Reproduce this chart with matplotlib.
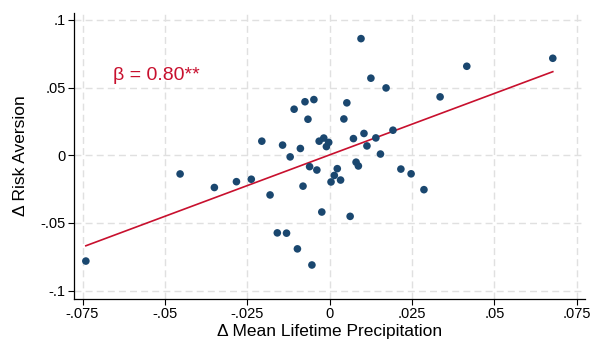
import numpy as np
import matplotlib
matplotlib.use("Agg")
import matplotlib.pyplot as plt

plt.rcParams['font.family'] = ['Liberation Sans', 'DejaVu Sans']

# change in mean lifetime precipitation vs change in risk aversion
precip = [-0.0740, -0.0454, -0.0350, -0.0283, -0.0238, -0.0206, -0.0181, -0.0159,
          -0.0131, -0.0098, -0.0054, -0.0143, -0.0120, -0.0108, -0.0075, -0.0048,
          -0.0066, -0.0089, -0.0061, -0.0039, -0.0081, -0.0032, -0.0018, -0.0003,
          -0.0010, -0.0024, 0.0004, 0.0014, 0.0023, 0.0033, 0.0052, 0.0043,
          0.0062, 0.0072, 0.0080, 0.0087, 0.0095, 0.0104, 0.0113, 0.0125,
          0.0140, 0.0154, 0.0171, 0.0192, 0.0216, 0.0247, 0.0286, 0.0335,
          0.0416, 0.0677]
risk = [-0.0781, -0.0138, -0.0238, -0.0195, -0.0177, 0.0104, -0.0293, -0.0573,
        -0.0575, -0.0691, -0.0810, 0.0075, -0.0012, 0.0340, 0.0395, 0.0411,
        0.0266, 0.0050, -0.0084, -0.0109, -0.0228, 0.0104, 0.0127, 0.0095,
        0.0064, -0.0419, -0.0197, -0.0149, -0.0099, -0.0183, 0.0387, 0.0268,
        -0.0451, 0.0123, -0.0051, -0.0079, 0.0861, 0.0161, 0.0069, 0.0569,
        0.0128, 0.0009, 0.0497, 0.0185, -0.0102, -0.0137, -0.0254, 0.0431,
        0.0657, 0.0716]

fit_slope = 0.907
fit_intercept = 0.0003
beta_label = "β = 0.80**"

xticks = [-0.075, -0.05, -0.025, 0, 0.025, 0.05, 0.075]
xticklabels = ["-.075", "-.05", "-.025", "0", ".025", ".05", ".075"]
yticks = [-0.1, -0.05, 0, 0.05, 0.1]
yticklabels = ["-.1", "-.05", "0", ".05", ".1"]

navy = "#1a476f"
red = "#c8102e"

fig = plt.figure(figsize=(5.91, 3.41), dpi=100)
ax = fig.add_axes([0.1252, 0.124, 0.8648, 0.839])

ax.scatter(precip, risk, s=30, color=navy, edgecolors="none", zorder=3)

x_fit = np.array([min(precip), max(precip)])
ax.plot(x_fit, fit_intercept + fit_slope * x_fit, color=red, lw=1.2, zorder=2)

ax.text(-0.0659, 0.0556, beta_label, color=red, fontsize=14, va="baseline", ha="left")

ax.set_xlim(-0.0776, 0.0775)
ax.set_ylim(-0.1059, 0.1053)
ax.set_xticks(xticks)
ax.set_xticklabels(xticklabels)
ax.set_yticks(yticks)
ax.set_yticklabels(yticklabels)

ax.grid(True, color="#e0e0e0", linestyle=(0, (5, 3)), lw=1.0, zorder=0)
ax.set_axisbelow(True)

for side in ["top", "right"]:
    ax.spines[side].set_visible(False)
for side in ["left", "bottom"]:
    ax.spines[side].set_color("black")
    ax.spines[side].set_linewidth(0.9)

ax.tick_params(axis="both", direction="out", length=4, width=0.8, labelsize=10.5, colors="black", pad=2)

ax.set_xlabel("Δ Mean Lifetime Precipitation", fontsize=12.5, labelpad=2)
ax.set_ylabel("Δ Risk Aversion", fontsize=12.5, labelpad=9)

fig.savefig("out.png", dpi=100)
